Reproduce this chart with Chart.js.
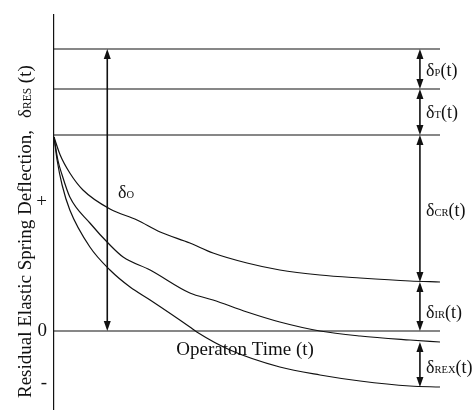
<!DOCTYPE html>
<html>
<head>
<meta charset="utf-8">
<script src="https://cdn.jsdelivr.net/npm/chart.js@4/dist/chart.umd.min.js"></script>
<style>
  html, body { margin: 0; padding: 0; background: #fff; }
  #wrap { width: 473px; height: 410px; position: relative; }
</style>
</head>
<body>
<div id="wrap"><canvas id="c"></canvas></div>
<script>
// Operation time (arbitrary units, 0..100) and residual deflection (arbitrary units)
const upperTime  = [0, 1.6, 4.1, 7.5, 14.5, 21.5, 27.5, 35.2, 41.2, 50.0, 58.5, 68.9, 79.3, 92.2, 100];
const upperDefl  = [19.4, 17.6, 15.8, 14.1, 12.2, 11.1, 9.9, 8.8, 7.8, 6.8, 6.1, 5.6, 5.3, 5.0, 4.9];

const middleTime = [0, 1.0, 2.1, 4.1, 9.3, 14.5, 17.9, 24.9, 35.2, 41.2, 50.0, 58.5, 68.9, 79.3, 92.2, 100];
const middleDefl = [19.4, 17.1, 15.6, 13.4, 10.8, 8.6, 7.4, 6.1, 3.8, 3.1, 1.9, 0.9, 0.0, -0.5, -0.9, -1.1];

const lowerTime  = [0, 0.8, 2.1, 4.1, 9.3, 14.5, 19.7, 24.9, 35.2, 37.0, 45.6, 58.5, 68.9, 79.3, 92.2, 100];
const lowerDefl  = [19.4, 17.1, 14.6, 12.1, 8.4, 6.1, 4.4, 3.1, 0.4, -0.1, -1.9, -3.6, -4.4, -5.0, -5.5, -5.6];

// Horizontal reference levels: initial, after δP, after δT, zero
const levels = [28.2, 24.2, 19.6, 0];

// Y-axis tick marks and their labels
const tickValues = [-5.2, 0, 12.9];
const tickLabels = ['-', '0', '+'];

// Dimension arrows: x position, from, to
const arrowX      = [13.8, 94.8, 94.8, 94.8, 94.8, 94.8];
const arrowFrom   = [28.2, 28.2, 24.2, 19.6, 4.9, -1.1];
const arrowTo     = [0,    24.2, 19.6, 4.9,  0,   -5.6];

// Dimension labels: symbol subscript, x (left edge), y (centre)
const labelSub    = ['O', 'P', 'T', 'CR', 'IR', 'REX'];
const labelSuffix = ['', '(t)', '(t)', '(t)', '(t)', '(t)'];
const labelX      = [16.6, 96.4, 96.4, 96.4, 96.4, 96.4];
const labelY      = [13.9, 26.1, 21.9, 12.1, 1.9, -3.6];

const timeLabel = 'Operaton Time (t)';
const timeLabelX = 49.5, timeLabelY = -1.9;

const INK = '#111';
const SERIF = '"Liberation Serif", "Times New Roman", serif';

function pts(xs, ys) { return xs.map((x, i) => ({ x, y: ys[i] })); }

const datasets = [
  { data: pts(upperTime, upperDefl) },
  { data: pts(middleTime, middleDefl) },
  { data: pts(lowerTime, lowerDefl) },
  ...levels.map(v => ({ data: [{ x: 0, y: v }, { x: 100, y: v }] }))
].map(d => Object.assign({
  borderColor: INK, borderWidth: 1.2, pointRadius: 0,
  cubicInterpolationMode: 'monotone', fill: false
}, d));

// Draws a delta symbol with a small-capital subscript and optional suffix
function drawDelta(ctx, x, y, sub, suffix, big, small) {
  ctx.textBaseline = 'alphabetic';
  ctx.textAlign = 'left';
  ctx.font = big + 'px ' + SERIF;
  ctx.fillText('δ', x, y);
  x += ctx.measureText('δ').width;
  ctx.font = small + 'px ' + SERIF;
  ctx.fillText(sub, x, y);
  x += ctx.measureText(sub).width;
  if (suffix) {
    ctx.font = big + 'px ' + SERIF;
    ctx.fillText(suffix, x, y);
    x += ctx.measureText(suffix).width;
  }
  return x;
}

function arrowHead(ctx, x, y, dir) {
  const w = 3.5, l = 10;
  ctx.beginPath();
  ctx.moveTo(x, y);
  ctx.lineTo(x - w, y + dir * l);
  ctx.lineTo(x + w, y + dir * l);
  ctx.closePath();
  ctx.fill();
}

const annotations = {
  id: 'annotations',
  afterDatasetsDraw(chart) {
    const ctx = chart.ctx, xs = chart.scales.x, ys = chart.scales.y;
    ctx.save();
    ctx.strokeStyle = INK;
    ctx.fillStyle = INK;
    // double-headed dimension arrows
    arrowX.forEach((ax, i) => {
      const px = xs.getPixelForValue(ax);
      const y1 = ys.getPixelForValue(arrowFrom[i]);
      const y2 = ys.getPixelForValue(arrowTo[i]);
      ctx.lineWidth = 1.6;
      ctx.beginPath();
      ctx.moveTo(px, y1 + 4);
      ctx.lineTo(px, y2 - 4);
      ctx.stroke();
      arrowHead(ctx, px, y1, 1);
      arrowHead(ctx, px, y2, -1);
    });
    // dimension labels
    labelSub.forEach((s, i) => {
      const px = xs.getPixelForValue(labelX[i]);
      const py = ys.getPixelForValue(labelY[i]) + 6;
      drawDelta(ctx, px, py, s, labelSuffix[i], 18, 10.5);
    });
    // time label
    ctx.font = '19px ' + SERIF;
    ctx.textAlign = 'center';
    ctx.textBaseline = 'middle';
    ctx.fillText(timeLabel, xs.getPixelForValue(timeLabelX), ys.getPixelForValue(timeLabelY));
    // vertical axis title
    ctx.translate(31, 398);
    ctx.rotate(-Math.PI / 2);
    ctx.textAlign = 'left';
    ctx.textBaseline = 'alphabetic';
    ctx.font = '19px ' + SERIF;
    const head = 'Residual Elastic Spring Deflection,';
    ctx.fillText(head, 0, 0);
    const hx = ctx.measureText(head).width + 12;
    drawDelta(ctx, hx, 0, 'RES', ' (t)', 19, 11.5);
    ctx.restore();
  }
};

new Chart(document.getElementById('c'), {
  type: 'line',
  data: { datasets },
  plugins: [annotations],
  options: {
    responsive: true,
    maintainAspectRatio: false,
    animation: false,
    layout: { padding: { top: 15, right: 33, bottom: 0, left: 0 } },
    plugins: { legend: { display: false }, tooltip: { enabled: false } },
    scales: {
      x: { type: 'linear', min: 0, max: 100, display: false },
      y: {
        type: 'linear', min: -7.9, max: 31.6,
        afterBuildTicks(scale) { scale.ticks = tickValues.map(v => ({ value: v })); },
        afterFit(scale) {
          scale.width = 54;
          scale.paddingTop = 0;
          scale.paddingBottom = 0;
        },
        ticks: {
          color: INK, padding: 7,
          font: { family: SERIF, size: 19 },
          callback: (v) => tickLabels[tickValues.indexOf(v)]
        },
        grid: { display: false, drawTicks: false },
        border: { display: true, color: INK, width: 1.2 }
      }
    }
  }
});
</script>
</body>
</html>
